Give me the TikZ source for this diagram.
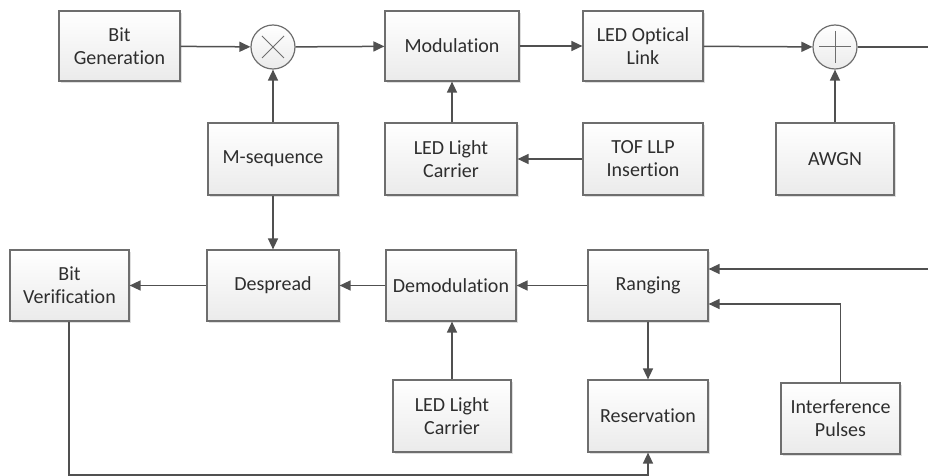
\documentclass[tikz,border=0pt]{standalone}
\usepackage{fontspec}
\setmainfont{Carlito}[Ligatures=NoCommon]
\usepackage{tikz}
\usetikzlibrary{positioning,arrows.meta,calc,shadows}
\definecolor{boxline}{HTML}{6E6E6E}
\definecolor{wireline}{HTML}{505050}
\definecolor{textgray}{HTML}{2E2E2E}
\tikzset{
  block/.style={draw=boxline, line width=0.6pt, top color=white, bottom color=gray!16,
    drop shadow={shadow xshift=1pt, shadow yshift=-1pt, fill=gray, opacity=0.25},
    text=textgray, align=center, inner sep=0pt, font=\fontsize{10}{11.5}\selectfont},
  mixer/.style={circle, draw=boxline, line width=0.6pt, top color=white, bottom color=gray!16,
    minimum size=22pt, inner sep=0pt},
  wire/.style={draw=wireline, line width=0.75pt},
  link/.style={wire, -{Triangle[length=5.5pt,width=5pt]}}
}

\begin{document}
\begin{tikzpicture}[x=0.5pt, y=-0.5pt]
  \useasboundingbox (0,0) rectangle (928,476);
  % transmitter
  \node[block, minimum width=60.5pt, minimum height=35pt] (bitgen) at (119.5,46) {Bit\\Generation};
  \node[mixer] (mult) at (273,47) {};
  \node[block, minimum width=67pt, minimum height=35pt] (modul) at (452,46) {Modulation};
  \node[block, minimum width=60pt, minimum height=35pt] (ledlink) at (643,46) {LED Optical\\Link};
  \node[mixer] (adder) at (835,47) {};
  \node[block, minimum width=65pt, minimum height=36pt] (mseq) at (273,159) {M-sequence};
  \node[block, minimum width=66pt, minimum height=36pt] (carrtx) at (451,159) {LED Light\\Carrier};
  \node[block, minimum width=60pt, minimum height=36pt] (tof) at (643,159) {TOF LLP\\Insertion};
  \node[block, minimum width=59pt, minimum height=36pt] (awgn) at (835,159) {AWGN};
  % receiver
  \node[block, minimum width=59.5pt, minimum height=35.5pt] (bitver) at (69.5,285.5) {Bit\\Verification};
  \node[block, minimum width=66pt, minimum height=35.5pt] (despread) at (273,285.5) {Despread};
  \node[block, minimum width=65pt, minimum height=35.5pt] (demod) at (451,285.5) {Demodulation};
  \node[block, minimum width=60pt, minimum height=35.5pt] (ranging) at (648,285.5) {Ranging};
  \node[block, minimum width=59pt, minimum height=36pt] (carrrx) at (452,416) {LED Light\\Carrier};
  \node[block, minimum width=60pt, minimum height=36pt] (reserv) at (648,416) {Reservation};
  \node[block, minimum width=59.5pt, minimum height=35.5pt] (interf) at (840.5,418.5) {Interference\\Pulses};

  % mixer symbols
  \draw[boxline, line width=0.5pt] ($(mult.center)+(-11,-11)$) -- ($(mult.center)+(11,11)$);
  \draw[boxline, line width=0.5pt] ($(mult.center)+(-11,11)$) -- ($(mult.center)+(11,-11)$);
  \draw[boxline, line width=0.5pt] ($(adder.center)+(-16,0)$) -- ($(adder.center)+(16,0)$);
  \draw[boxline, line width=0.5pt] ($(adder.center)+(0,-16)$) -- ($(adder.center)+(0,16)$);

  \coordinate (chout) at (928,47);
  \coordinate (chin) at (928,269);
  \coordinate (loop) at (69,475);

  % connectors
  \draw[link] (bitgen) -- (mult);
  \draw[link] (mult) -- (modul);
  \draw[link] (modul) -- (ledlink);
  \draw[link] (ledlink) -- (adder);
  \draw[wire] (adder) -- (chout);
  \draw[link] (mseq) -- (mult);
  \draw[link] (mseq) -- (despread);
  \draw[link] (carrtx.north -| modul) -- (modul);
  \draw[link] (tof) -- (carrtx);
  \draw[link] (awgn) -- (adder);
  \draw[link] (chin) -- (chin -| ranging.east);
  \draw[link] (interf.north) |- ($(ranging.east)+(0,18.5)$);
  \draw[link] (ranging) -- (demod);
  \draw[link] (demod) -- (despread);
  \draw[link] (despread) -- (bitver);
  \draw[link] (carrrx) -- (carrrx |- demod.south);
  \draw[link] (ranging) -- (reserv);
  \draw[link] (bitver.south -| loop) -- (loop) -| (reserv.south);
\end{tikzpicture}
\end{document}
